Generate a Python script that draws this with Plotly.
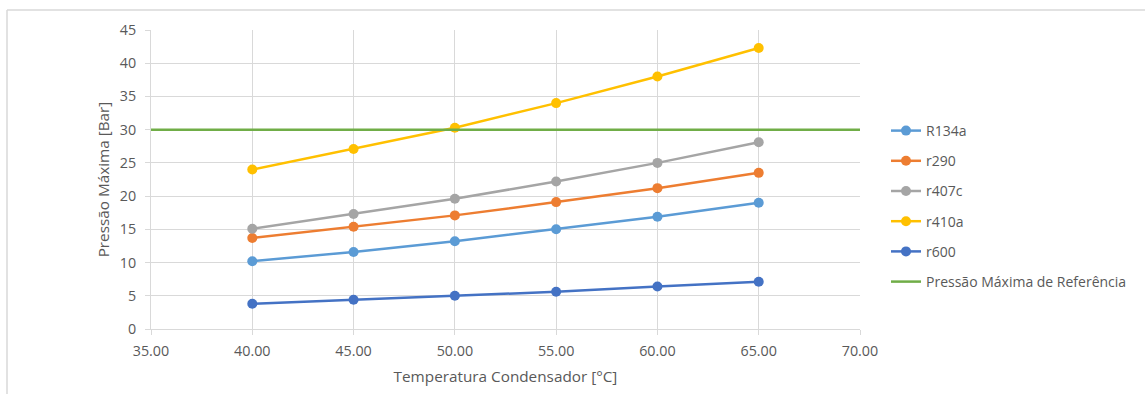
import plotly.graph_objects as go

# Condenser temperature (°C)
temperatura = [40, 45, 50, 55, 60, 65]

# Maximum pressure per refrigerant (bar)
r134a = [10.2, 11.6, 13.2, 15.0, 16.9, 19.0]
r290 = [13.7, 15.4, 17.1, 19.1, 21.2, 23.5]
r407c = [15.1, 17.3, 19.6, 22.2, 25.0, 28.1]
r410a = [24.0, 27.1, 30.3, 34.0, 38.0, 42.3]
r600 = [3.8, 4.4, 5.0, 5.6, 6.4, 7.1]

# Reference maximum pressure line
ref_temp = [35, 70]
ref_pressao = [30, 30]

series = [
    ("R134a", r134a, "#5B9BD5"),
    ("r290", r290, "#ED7D31"),
    ("r407c", r407c, "#A5A5A5"),
    ("r410a", r410a, "#FFC000"),
    ("r600", r600, "#4472C4"),
]

FONT = "Open Sans"
TXT = "#595959"
GRID = "#D9D9D9"

fig = go.Figure()
for name, vals, color in series:
    fig.add_trace(go.Scatter(
        x=temperatura, y=vals, name=name, legendgroup=name,
        mode="lines+markers",
        line=dict(color=color, width=2.5),
        marker=dict(color=color, size=10),
    ))

fig.add_trace(go.Scatter(
    x=ref_temp, y=ref_pressao, name="Pressão Máxima de Referência",
    legendgroup="ref", mode="lines",
    line=dict(color="#70AD47", width=2.5),
))

W, H = 1145, 394
L, R, T, B = 151, 285, 30, 65
pw = W - L - R
ph = H - T - B

def px_x(p):
    return (p - L) / pw

def px_y(p):
    return 1 - (p - T) / ph

# chart frame (left and top edges)
frame = dict(color=GRID, width=1.5)
fig.add_shape(type="line", xref="paper", yref="paper",
              x0=px_x(7), x1=px_x(7), y0=px_y(10), y1=px_y(420), line=frame)
fig.add_shape(type="line", xref="paper", yref="paper",
              x0=px_x(7), x1=px_x(1160), y0=px_y(10), y1=px_y(10), line=frame)

fig.update_layout(
    width=W, height=H,
    margin=dict(l=L, r=R, t=T, b=B),
    paper_bgcolor="white", plot_bgcolor="white",
    font=dict(family=FONT, size=14, color=TXT),
    showlegend=True,
    legend=dict(
        x=px_x(886), xanchor="left",
        y=px_y(206.5), yanchor="middle",
        tracegroupgap=9,
        font=dict(family=FONT, size=14, color=TXT),
        bgcolor="rgba(0,0,0,0)",
    ),
    xaxis=dict(
        range=[35, 70], dtick=5, tick0=35, tickformat=".2f",
        showgrid=True, gridcolor=GRID, gridwidth=1,
        showline=True, linecolor=GRID, linewidth=1,
        ticks="outside", ticklen=5, tickcolor=GRID,
        ticklabelstandoff=4,
        tickfont=dict(family=FONT, size=14.3, color=TXT),
        zeroline=False,
        title=dict(text="Temperatura Condensador [°C]",
                   font=dict(family=FONT, size=15.3, color=TXT), standoff=12),
    ),
    yaxis=dict(
        range=[0, 45], dtick=5,
        showgrid=True, gridcolor=GRID, gridwidth=1,
        showline=True, linecolor=GRID, linewidth=1,
        ticks="outside", ticklen=5, tickcolor=GRID,
        ticklabelstandoff=6,
        tickfont=dict(family=FONT, size=14.3, color=TXT),
        zeroline=False,
        title=dict(text="Pressão Máxima [Bar]",
                   font=dict(family=FONT, size=15.3, color=TXT), standoff=6),
    ),
)

fig.write_html("out.html")
